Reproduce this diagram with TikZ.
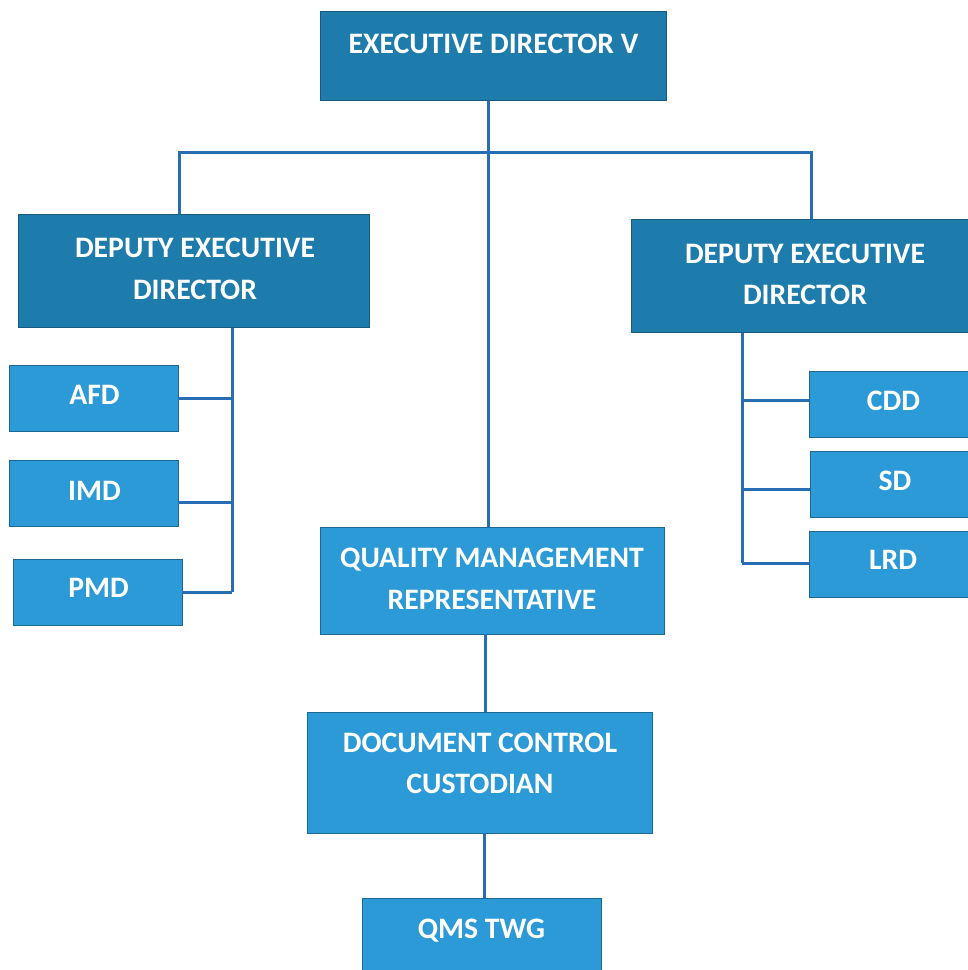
\documentclass[tikz,border=0pt]{standalone}
\usepackage{fontspec}
\setmainfont{Carlito}
\definecolor{darkbox}{RGB}{30,124,172}
\definecolor{lightbox}{RGB}{44,154,214}
\definecolor{edgecol}{RGB}{22,92,130}
\definecolor{linecol}{RGB}{40,110,180}
\begin{document}
\begin{tikzpicture}[x=1pt,y=-1pt,
  dbox/.style={draw=edgecol,line width=1pt,fill=darkbox,inner sep=0pt},
  lbox/.style={draw=edgecol!80!lightbox,line width=0.8pt,fill=lightbox,inner sep=0pt},
  txt/.style={text=white,font=\fontsize{29.7}{36}\selectfont\bfseries,anchor=base,inner sep=0pt},
  conn/.style={draw=linecol,line width=3pt}]
\useasboundingbox (0,0) rectangle (968,970);
\clip (0,0) rectangle (968,970);
% boxes (centre, width, height)
\node[dbox,minimum width=346pt,minimum height=89pt] (ed) at (493,55.5) {};
\node[dbox,minimum width=351pt,minimum height=113pt] (dedl) at (193.5,270.5) {};
\node[dbox,minimum width=348pt,minimum height=113pt] (dedr) at (805,275.5) {};
\node[lbox,minimum width=169pt,minimum height=66pt] (afd) at (93.5,398) {};
\node[lbox,minimum width=169pt,minimum height=66pt] (imd) at (93.5,493) {};
\node[lbox,minimum width=169pt,minimum height=66pt] (pmd) at (97.5,592) {};
\node[lbox,minimum width=169pt,minimum height=66pt] (cdd) at (893.5,404) {};
\node[lbox,minimum width=169pt,minimum height=66pt] (sd) at (894.5,484) {};
\node[lbox,minimum width=169pt,minimum height=66pt] (lrd) at (893.5,564) {};
\node[lbox,minimum width=344pt,minimum height=107pt] (qmr) at (492,580.5) {};
\node[lbox,minimum width=345pt,minimum height=121pt] (dcc) at (479.5,772.5) {};
\node[lbox,minimum width=239pt,minimum height=90pt] (qms) at (481.5,943) {};
% texts (at baselines)
\node[txt] (edt) at (493.5,53) {EXECUTIVE DIRECTOR V};
\node[txt] (dedlt1) at (195,257) {DEPUTY EXECUTIVE};
\node[txt] (dedlt2) at (195,299) {DIRECTOR};
\node[txt] (dedrt1) at (805,263) {DEPUTY EXECUTIVE};
\node[txt] (dedrt2) at (805,304) {DIRECTOR};
\node[txt] (afdt) at (94.5,404) {AFD};
\node[txt] (imdt) at (94.5,500) {IMD};
\node[txt] (pmdt) at (98.5,597) {PMD};
\node[txt] (cddt) at (893.5,410) {CDD};
\node[txt] (sdt) at (895,490) {SD};
\node[txt] (lrdt) at (893,569) {LRD};
\node[txt] (qmrt1) at (492,567) {QUALITY MANAGEMENT};
\node[txt] (qmrt2) at (492,609) {REPRESENTATIVE};
\node[txt] (dcct1) at (480,752) {DOCUMENT CONTROL};
\node[txt] (dcct2) at (480,793) {CUSTODIAN};
\node[txt] (qmst) at (481.5,938) {QMS TWG};
% connectors
\coordinate (hl) at (179,152);
\coordinate (hr) at (811,152);
\coordinate (hm) at (488,152);
\coordinate (vl) at (232,592);
\coordinate (vr) at (742,563);
\draw[conn] (ed.south -| hm) -- (qmr.north -| hm);
\draw[conn] (hl |- dedl.north) -- (hl) -- (hr) -- (hr |- dedr.north);
\draw[conn] (dedl.south -| vl) -- (vl);
\draw[conn] (afd.east) -- (afd.east -| vl);
\draw[conn] (imd.east |- 0,502) -- (vl |- 0,502);
\draw[conn] (pmd.east |- vl) -- (vl);
\draw[conn] (dedr.south -| vr) -- (vr);
\draw[conn] (cdd.west |- 0,400) -- (vr |- 0,400);
\draw[conn] (sd.west |- 0,489) -- (vr |- 0,489);
\draw[conn] (lrd.west |- vr) -- (vr);
\draw[conn] (qmr.south -| 485,0) -- (dcc.north -| 485,0);
\draw[conn] (dcc.south -| 484,0) -- (qms.north -| 484,0);
\end{tikzpicture}
\end{document}
